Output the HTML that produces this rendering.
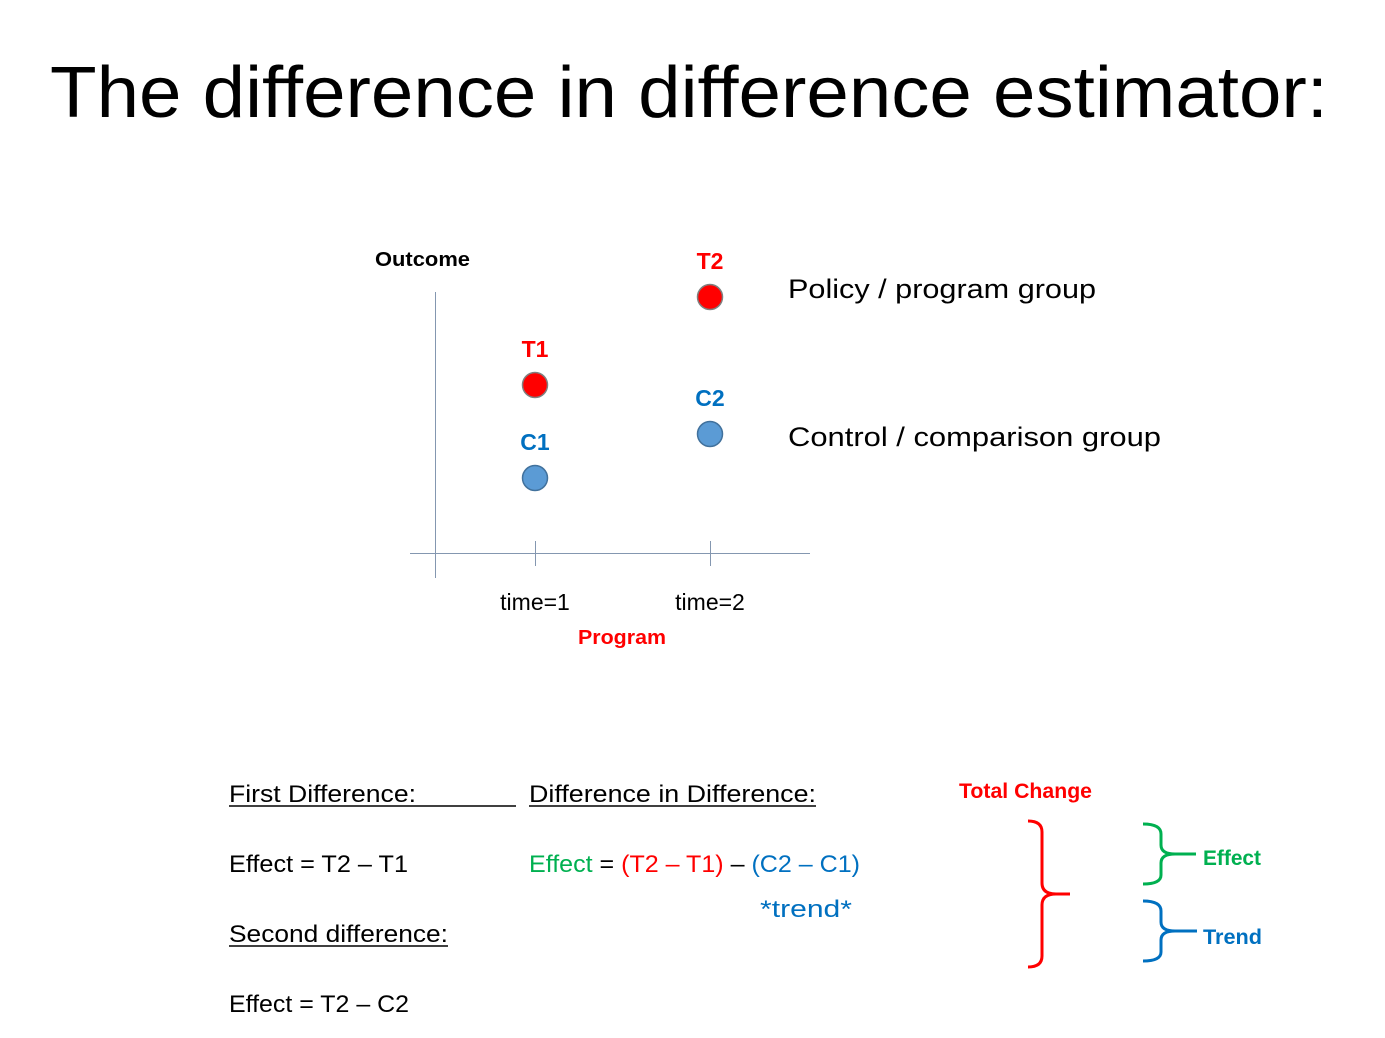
<!DOCTYPE html>
<html><head><meta charset="utf-8"><style>
body{margin:0;background:#fff}
svg{display:block;font-family:"Liberation Sans",sans-serif}
</style></head><body>
<svg width="1385" height="1038" viewBox="0 0 1385 1038">
<text x="50" y="117" font-size="72" textLength="1278" lengthAdjust="spacingAndGlyphs" fill="#000">The difference in difference estimator:</text>
<g id="chart">
<line x1="435.5" y1="292" x2="435.5" y2="578" stroke="#8497b0" stroke-width="1"/>
<line x1="410" y1="553.5" x2="810" y2="553.5" stroke="#8497b0" stroke-width="1"/>
<text x="375" y="266" font-size="20" font-weight="bold" textLength="95" lengthAdjust="spacingAndGlyphs">Outcome</text>
<text x="578" y="644" font-size="20" font-weight="bold" fill="#ff0000" textLength="88" lengthAdjust="spacingAndGlyphs">Program</text>
<text x="788" y="298" font-size="27" textLength="308" lengthAdjust="spacingAndGlyphs">Policy / program group</text>
<text x="788" y="446" font-size="27" textLength="373" lengthAdjust="spacingAndGlyphs">Control / comparison group</text>
</g>
<g font-size="24">
<text x="229" y="802" textLength="187" lengthAdjust="spacingAndGlyphs">First Difference:</text>
<line x1="229" y1="806" x2="516" y2="806" stroke="#000" stroke-width="1.5"/>
<text x="529" y="802" textLength="287" lengthAdjust="spacingAndGlyphs">Difference in Difference:</text>
<line x1="529" y1="806" x2="816" y2="806" stroke="#000" stroke-width="1.5"/>
<text x="229" y="872" textLength="179" lengthAdjust="spacingAndGlyphs">Effect = T2 – T1</text>
<text x="229" y="942" textLength="219" lengthAdjust="spacingAndGlyphs">Second difference:</text>
<line x1="229" y1="946" x2="448" y2="946" stroke="#000" stroke-width="1.5"/>
<text x="229" y="1012" textLength="180" lengthAdjust="spacingAndGlyphs">Effect = T2 – C2</text>
<text x="529" y="872" textLength="331" lengthAdjust="spacingAndGlyphs"><tspan fill="#00b050">Effect</tspan> = <tspan fill="#ff0000">(T2 – T1)</tspan> – <tspan fill="#0070c0">(C2 – C1)</tspan></text>
<text x="760" y="917" fill="#0070c0" textLength="92" lengthAdjust="spacingAndGlyphs">*trend*</text>
<text x="959" y="798" font-size="21" font-weight="bold" fill="#ff0000" textLength="133" lengthAdjust="spacingAndGlyphs">Total Change</text>
<text x="1203" y="865" font-size="21" font-weight="bold" fill="#00b050" textLength="58" lengthAdjust="spacingAndGlyphs">Effect</text>
<text x="1203" y="944" font-size="21" font-weight="bold" fill="#0070c0" textLength="59" lengthAdjust="spacingAndGlyphs">Trend</text>
<path d="M1028,821 Q1042,821 1042,832 L1042,883 Q1042,894 1056,894 L1070,894 M1056,894 Q1042,894 1042,905 L1042,956 Q1042,967 1028,967" fill="none" stroke="#ff0000" stroke-width="3"/>
<path d="M1143,824 Q1161,824 1161,834 L1161,845 Q1161,854 1175,854 L1196,854 M1175,854 Q1161,854 1161,863 L1161,875 Q1161,884 1143,884" fill="none" stroke="#00b050" stroke-width="3"/>
<path d="M1143,901 Q1161,901 1161,911 L1161,922 Q1161,931 1175,931 L1197,931 M1175,931 Q1161,931 1161,940 L1161,952 Q1161,961 1143,961" fill="none" stroke="#0070c0" stroke-width="3"/>
</g>
</svg>
<script>
const times = [1, 2];
const timeLabels = ["time=1", "time=2"];
const treatLabels = ["T1", "T2"];
const controlLabels = ["C1", "C2"];
const treatValues = [168, 256];
const controlValues = [75, 119];
const NS = "http://www.w3.org/2000/svg";
const chart = document.getElementById("chart");
function xScale(t){ return 535 + (t - 1) * 175; }
function yScale(v){ return 553 - v; }
function mk(tag, attrs){ const e = document.createElementNS(NS, tag); for (const k in attrs) e.setAttribute(k, attrs[k]); chart.appendChild(e); return e; }
times.forEach((t, i) => {
  const x = xScale(t);
  const tick = mk("line", {x1: x + 0.5, y1: 541, x2: x + 0.5, y2: 566, stroke: "#8497b0"});
  
  
  const tl = mk("text", {x: x, y: 610, "font-size": 23, "text-anchor": "middle"});
  tl.textContent = timeLabels[i];
  
  
  const ty = yScale(treatValues[i]);
  const tp = mk("circle", {cx: x, cy: ty, r: 12.5, fill: "#ff0000", stroke: "#7f7f7f", "stroke-width": 1.5});
  
  
  const tt = mk("text", {x: x, y: ty - 28, "font-size": 23, "font-weight": "bold", fill: "#ff0000", "text-anchor": "middle"});
  tt.textContent = treatLabels[i];
  
  
  const cy = yScale(controlValues[i]);
  const cp = mk("circle", {cx: x, cy: cy, r: 12.5, fill: "#5b9bd5", stroke: "#41719c", "stroke-width": 1.5});
  
  
  const ct = mk("text", {x: x, y: cy - 28, "font-size": 23, "font-weight": "bold", fill: "#0070c0", "text-anchor": "middle"});
  ct.textContent = controlLabels[i];
  
  
});
</script>
</body></html>
